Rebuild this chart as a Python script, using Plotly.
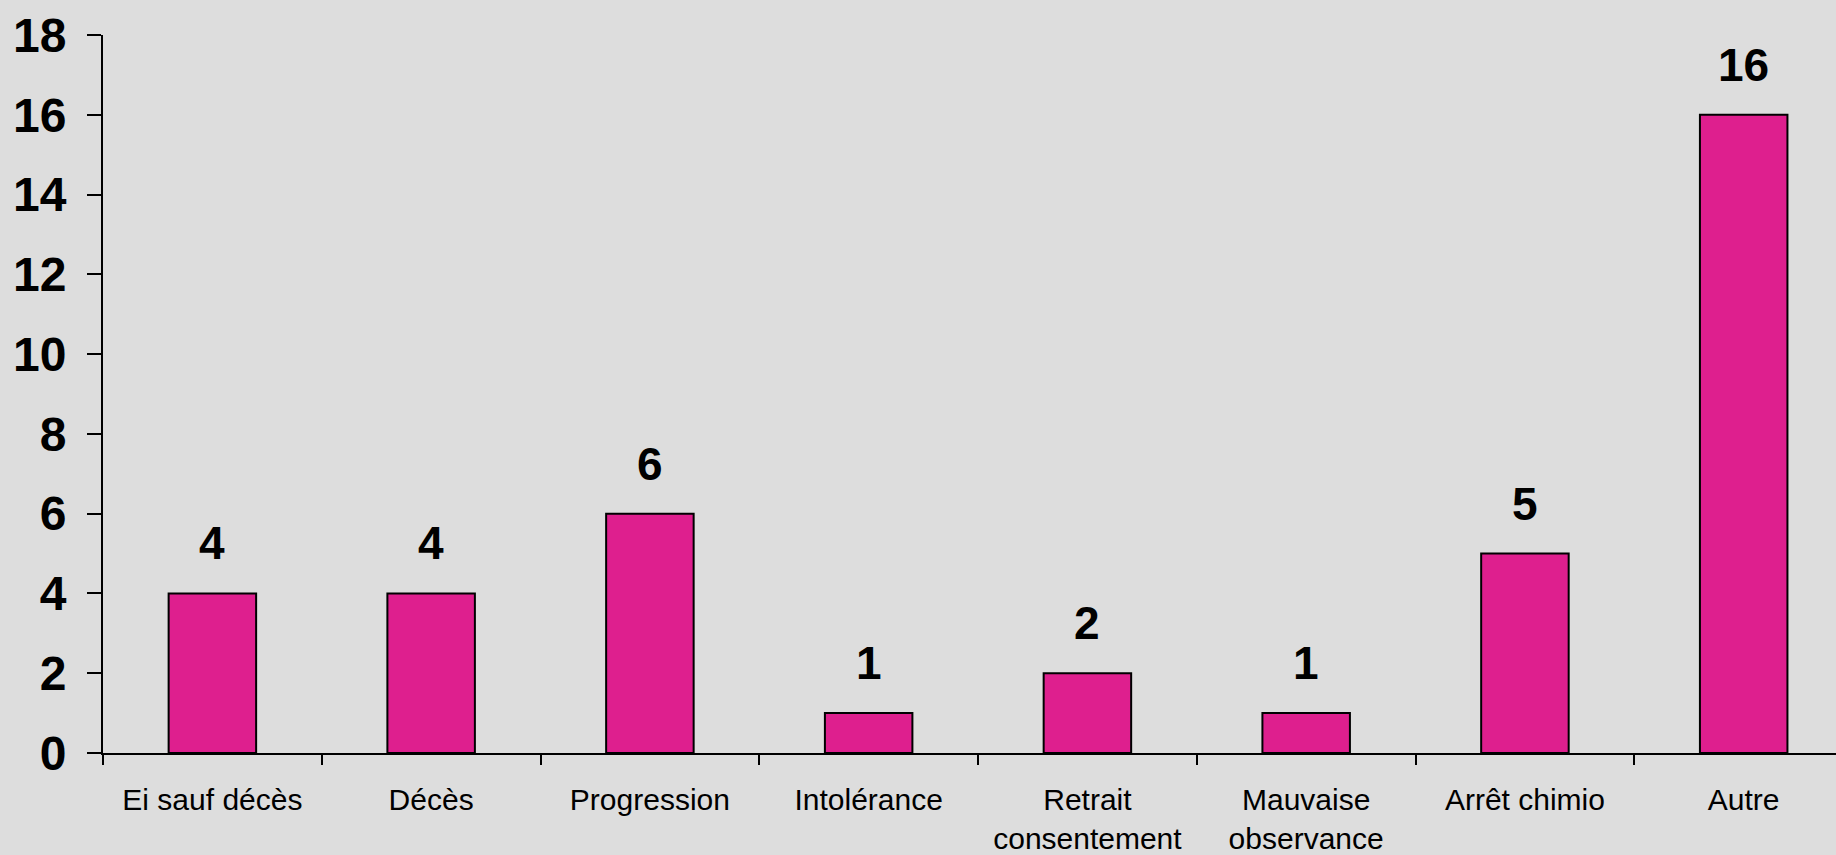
import plotly.graph_objects as go

# Reasons for treatment discontinuation (number of patients)
categories = ["Ei sauf décès", "Décès", "Progression", "Intolérance",
              "Retrait<br>consentement", "Mauvaise<br>observance",
              "Arrêt chimio", "Autre"]
counts = [4, 4, 6, 1, 2, 1, 5, 16]
y_ticks = [0, 2, 4, 6, 8, 10, 12, 14, 16, 18]

BG = "#DDDDDD"
BAR = "#DE1F8E"
FONT = "Liberation Sans, Arial, sans-serif"

fig = go.Figure(
    go.Bar(
        x=categories,
        y=counts,
        width=0.4,
        marker=dict(color=BAR, line=dict(color="black", width=2)),
        hoverinfo="x+y",
    )
)

# Value labels above each bar
for cat, val in zip(categories, counts):
    fig.add_annotation(
        x=cat, y=val, text=f"<b>{val}</b>", showarrow=False,
        yanchor="bottom", yshift=22,
        font=dict(family=FONT, size=46, color="black"),
    )

fig.update_layout(
    width=1836, height=855,
    margin=dict(l=103, r=0, t=35, b=100, pad=0),
    paper_bgcolor=BG, plot_bgcolor=BG,
    showlegend=False,
    font=dict(family=FONT, color="black"),
)

fig.update_xaxes(
    type="category",
    range=[-0.5, 7.422],
    tickson="boundaries",
    ticks="outside", ticklen=10, tickwidth=2, tickcolor="black",
    showline=True, linecolor="black", linewidth=2,
    showgrid=False, zeroline=False,
    tickfont=dict(family=FONT, size=30, color="black"),
    ticklabelstandoff=19,
)

fig.update_yaxes(
    range=[0, 18],
    tickvals=y_ticks,
    ticktext=[f"<b>{v}</b>" for v in y_ticks],
    ticks="outside", ticklen=14, tickwidth=2, tickcolor="black",
    showline=True, linecolor="black", linewidth=2,
    showgrid=False, zeroline=False,
    tickfont=dict(family=FONT, size=48, color="black"),
    ticklabelstandoff=11,
)

fig.write_html("out.html")
